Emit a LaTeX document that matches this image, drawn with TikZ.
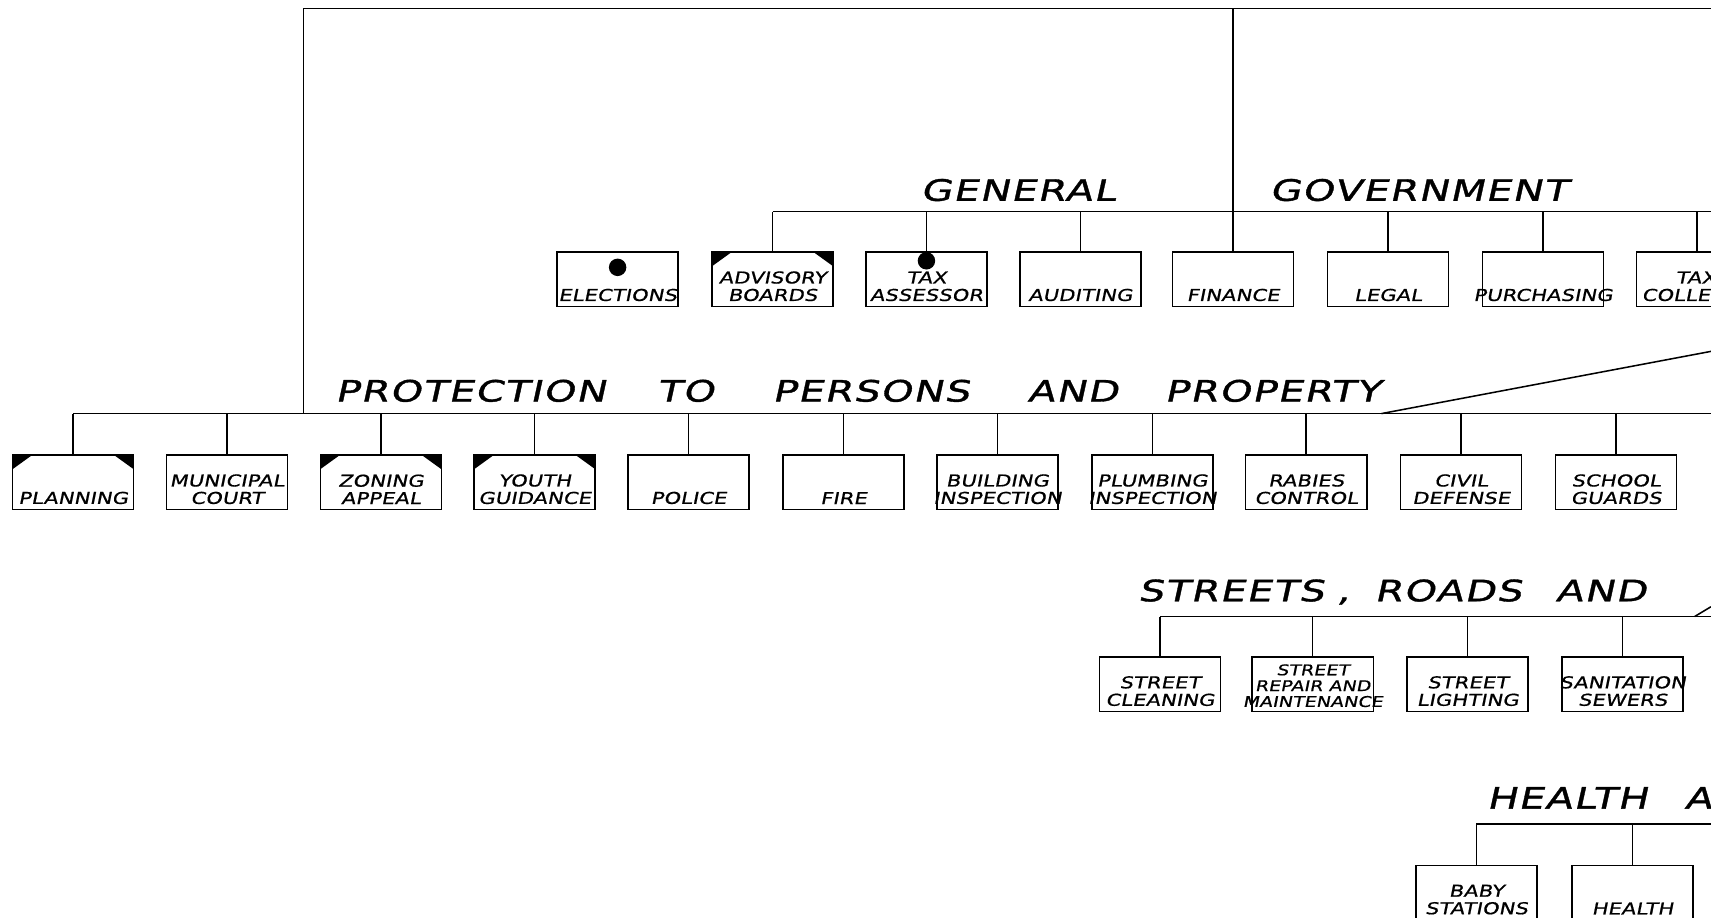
\documentclass[tikz,border=0pt]{standalone}
\usepackage{fontspec}
\usepackage{tikz}
\newfontfamily\headingfont[FakeSlant=0.22,FakeStretch=1.35,FakeBold=1.2,LetterSpace=5]{DejaVu Sans}
\newfontfamily\unitfont[FakeSlant=0.2,FakeStretch=1.28,FakeBold=0.8,LetterSpace=1]{DejaVu Sans}

\begin{document}
\begin{tikzpicture}[
		x=1pt, y=-1pt,
		line width=1.4pt,
		unitbox/.style={rectangle, draw, minimum width=111pt, minimum height=50pt, inner sep=0pt},
		unit/.style={unitbox, label={[anchor=south]south:#1}},
		corners/.style={path picture={
			\fill (path picture bounding box.north west) -- ++(18pt,0pt) -- ++(-18pt,-13pt) -- cycle;
			\fill (path picture bounding box.north east) -- ++(-18pt,0pt) -- ++(18pt,-13pt) -- cycle;}},
		dot/.style={circle, fill, inner sep=0pt, minimum size=16pt},
		heading/.style={anchor=base, inner sep=0pt, font=\headingfont\fontsize{27}{30}\selectfont},
		every label/.append style={align=center, inner sep=5pt, font=\unitfont\fontsize{15}{16}\selectfont}
	]
  \useasboundingbox (0,0) rectangle (1568,841);
  \clip (0,0) rectangle (1568,841);

  \coordinate (topL) at (278,8);
  \coordinate (topM) at (1130,8);
  \coordinate (topR) at (1568,8);
  \coordinate (genL) at (708,194);
  \coordinate (genR) at (1568,194);
  \coordinate (protL) at (67,379);
  \coordinate (protR) at (1568,379);
  \coordinate (protfork) at (1266,379);
  \coordinate (protup) at (1568,322);
  \coordinate (strL) at (1063,565);
  \coordinate (strR) at (1568,565);
  \coordinate (strfork) at (1553,565);
  \coordinate (strup) at (1568,556);
  \coordinate (hltL) at (1353,755);
  \coordinate (hltR) at (1568,755);

  \node (general) [heading] at (933,184) {GENERAL};
  \node (government) [heading] at (1300,184) {GOVERNMENT};
  \node (protection) [heading] at (431,368) {PROTECTION};
  \node (to) [heading] at (628,368) {TO};
  \node (persons) [heading] at (798,368) {PERSONS};
  \node (and) [heading] at (983,368) {AND};
  \node (property) [heading] at (1166,368) {PROPERTY};
  \node (streets) [heading] at (1128,551) {STREETS};
  \node (comma) [heading] at (1231,551) {,};
  \node (roads) [heading] at (1327,551) {ROADS};
  \node (and2) [heading] at (1467,551) {AND};
  \node (health) [heading] at (1436,741) {HEALTH};
  \node (healthA) [heading, anchor=base west] at (1543,741) {A};

  \node (elections) [unit=ELECTIONS] at (566,256) {};
  \node (advisory) [unit={ADVISORY\\BOARDS}, corners] at (708,256) {};
  \node (assessor) [unit={TAX\\ASSESSOR}] at (849,256) {};
  \node (auditing) [unit=AUDITING] at (990,256) {};
  \node (finance) [unit=FINANCE] at (1130,256) {};
  \node (legal) [unit=LEGAL] at (1272,256) {};
  \node (purchasing) [unit=PURCHASING] at (1414,256) {};
  \node (collector) [unitbox, label={[anchor=south west, align=left]south west:\hspace*{31pt}TAX\\COLLE}] at (1555,256) {};
  \node (electdot) [dot] at (566,245) {};
  \node (taxdot) [dot] at (849,239) {};

  \node (planning) [unit=PLANNING, corners] at (67,442) {};
  \node (municipal) [unit={MUNICIPAL\\COURT}] at (208,442) {};
  \node (zoning) [unit={ZONING\\APPEAL}, corners] at (349,442) {};
  \node (youth) [unit={YOUTH\\GUIDANCE}, corners] at (490,442) {};
  \node (police) [unit=POLICE] at (631,442) {};
  \node (fire) [unit=FIRE] at (773,442) {};
  \node (building) [unit={BUILDING\\INSPECTION}] at (914,442) {};
  \node (plumbing) [unit={PLUMBING\\INSPECTION}] at (1056,442) {};
  \node (rabies) [unit={RABIES\\CONTROL}] at (1197,442) {};
  \node (civil) [unit={CIVIL\\DEFENSE}] at (1339,442) {};
  \node (guards) [unit={SCHOOL\\GUARDS}] at (1481,442) {};

  \node (cleaning) [unit={STREET\\CLEANING}] at (1063,627) {};
  \node (repair) [unitbox, label={[anchor=south, inner sep=4pt, font=\unitfont\fontsize{13.5}{14.5}\selectfont]south:STREET\\REPAIR AND\\MAINTENANCE}] at (1203,627) {};
  \node (lighting) [unit={STREET\\LIGHTING}] at (1345,627) {};
  \node (sanitation) [unit={SANITATION\\SEWERS}] at (1487,627) {};

  \node (baby) [unit={BABY\\STATIONS}] at (1353,818) {};
  \node (clinic) [unit=HEALTH] at (1496,818) {};

  \draw (topL) -- (topR);
  \draw (topL) edge (topL |- protL);
  \draw (topM) edge (finance);

  \draw (genL) -- (genR);
  \draw (advisory) edge (advisory |- genL);
  \draw (taxdot) edge (taxdot |- genL);
  \draw (auditing) edge (auditing |- genL);
  \draw (legal) edge (legal |- genL);
  \draw (purchasing) edge (purchasing |- genL);
  \draw (collector) edge (collector |- genL);

  \draw (protL) -- (protR);
  \draw (protfork) -- (protup);
  \draw (planning) edge (planning |- protL);
  \draw (municipal) edge (municipal |- protL);
  \draw (zoning) edge (zoning |- protL);
  \draw (youth) edge (youth |- protL);
  \draw (police) edge (police |- protL);
  \draw (fire) edge (fire |- protL);
  \draw (building) edge (building |- protL);
  \draw (plumbing) edge (plumbing |- protL);
  \draw (rabies) edge (rabies |- protL);
  \draw (civil) edge (civil |- protL);
  \draw (guards) edge (guards |- protL);

  \draw (strL) -- (strR);
  \draw (strfork) -- (strup);
  \draw (cleaning) edge (cleaning |- strL);
  \draw (repair) edge (repair |- strL);
  \draw (lighting) edge (lighting |- strL);
  \draw (sanitation) edge (sanitation |- strL);

  \draw (hltL) -- (hltR);
  \draw (baby) edge (baby |- hltL);
  \draw (clinic) edge (clinic |- hltL);
\end{tikzpicture}
\end{document}
